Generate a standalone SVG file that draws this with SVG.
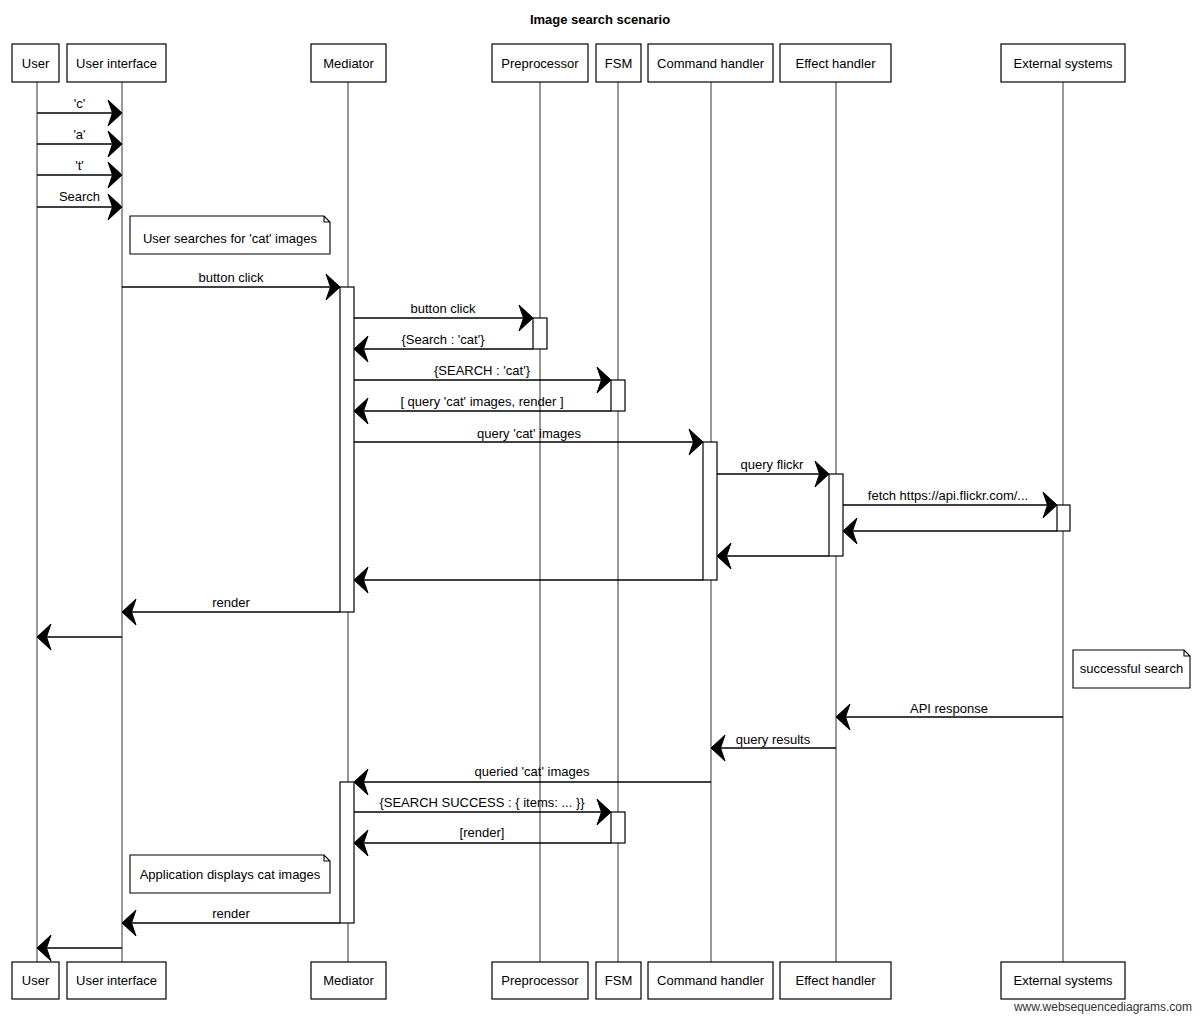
<svg xmlns="http://www.w3.org/2000/svg" width="1200" height="1019" viewBox="0 0 1200 1019">
<style>
text{font-family:"Liberation Sans",Arial,sans-serif;font-size:13px;fill:#000}
.title{font-weight:bold;font-size:13px}
.box{fill:#fff;stroke:#000;stroke-width:1.2}
.life{stroke:#333;stroke-width:1;fill:none}
.act{fill:#fff;stroke:#000;stroke-width:1.2}
.msg{stroke:#000;stroke-width:1.3;fill:none;marker-end:url(#ah)}
.note{fill:#fff;stroke:#000;stroke-width:1.1}
.foot{font-size:12px;fill:#333}
</style>
<defs>
<marker id="ah" markerUnits="userSpaceOnUse" markerWidth="18" markerHeight="32" viewBox="0 0 18 32" refX="16" refY="16" orient="auto">
<path d="M16,16 L2,3 L6.5,16 L2,29 Z" fill="#000" stroke="#000" stroke-width="1" stroke-linejoin="round"/>
</marker>
</defs>
<rect width="1200" height="1019" fill="#fff"/>
<text class="title" x="600" y="24" text-anchor="middle">Image search scenario</text>

<g id="lifelines">
<line class="life" x1="37" y1="82" x2="37" y2="962"/>
<line class="life" x1="122" y1="82" x2="122" y2="962"/>
<line class="life" x1="348" y1="82" x2="348" y2="962"/>
<line class="life" x1="540" y1="82" x2="540" y2="962"/>
<line class="life" x1="618" y1="82" x2="618" y2="962"/>
<line class="life" x1="711" y1="82" x2="711" y2="962"/>
<line class="life" x1="836" y1="82" x2="836" y2="962"/>
<line class="life" x1="1063" y1="82" x2="1063" y2="962"/>
</g>

<g id="user"><rect class="box" x="12" y="44" width="47" height="38"/><text x="35.5" y="68" text-anchor="middle">User</text>
<rect class="box" x="12" y="962" width="47" height="37"/><text x="35.5" y="985" text-anchor="middle">User</text></g>
<g id="ui"><rect class="box" x="67" y="44" width="99" height="38"/><text x="116.5" y="68" text-anchor="middle">User interface</text>
<rect class="box" x="67" y="962" width="99" height="37"/><text x="116.5" y="985" text-anchor="middle">User interface</text></g>
<g id="mediator"><rect class="box" x="311" y="44" width="75" height="38"/><text x="348.5" y="68" text-anchor="middle">Mediator</text>
<rect class="box" x="311" y="962" width="75" height="37"/><text x="348.5" y="985" text-anchor="middle">Mediator</text></g>
<g id="preprocessor"><rect class="box" x="492" y="44" width="96" height="38"/><text x="540" y="68" text-anchor="middle">Preprocessor</text>
<rect class="box" x="492" y="962" width="96" height="37"/><text x="540" y="985" text-anchor="middle">Preprocessor</text></g>
<g id="fsm"><rect class="box" x="596" y="44" width="45" height="38"/><text x="618.5" y="68" text-anchor="middle">FSM</text>
<rect class="box" x="596" y="962" width="45" height="37"/><text x="618.5" y="985" text-anchor="middle">FSM</text></g>
<g id="command"><rect class="box" x="648" y="44" width="125" height="38"/><text x="710.5" y="68" text-anchor="middle">Command handler</text>
<rect class="box" x="648" y="962" width="125" height="37"/><text x="710.5" y="985" text-anchor="middle">Command handler</text></g>
<g id="effect"><rect class="box" x="780" y="44" width="111" height="38"/><text x="835.5" y="68" text-anchor="middle">Effect handler</text>
<rect class="box" x="780" y="962" width="111" height="37"/><text x="835.5" y="985" text-anchor="middle">Effect handler</text></g>
<g id="external"><rect class="box" x="1001" y="44" width="124" height="38"/><text x="1063" y="68" text-anchor="middle">External systems</text>
<rect class="box" x="1001" y="962" width="124" height="37"/><text x="1063" y="985" text-anchor="middle">External systems</text></g>

<g id="activations">
<rect class="act" x="340" y="287" width="14" height="325"/>
<rect class="act" x="533" y="318" width="14" height="31"/>
<rect class="act" x="611" y="380" width="14" height="31"/>
<rect class="act" x="703" y="442" width="14" height="138"/>
<rect class="act" x="829" y="474" width="14" height="82"/>
<rect class="act" x="1057" y="505" width="13" height="26"/>
<rect class="act" x="340" y="782" width="14" height="141"/>
<rect class="act" x="611" y="812" width="14" height="31"/>
</g>

<g id="note1"><path class="note" d="M130,216 H324 L330,222 V254 H130 Z M324,216 V222 H330"/><text x="230" y="243" text-anchor="middle">User searches for 'cat' images</text></g>
<g id="note2"><path class="note" d="M1073,650 H1184 L1190,656 V688 H1073 Z M1184,650 V656 H1190"/><text x="1131.5" y="673" text-anchor="middle">successful search</text></g>
<g id="note3"><path class="note" d="M130,855 H324 L330,861 V893 H130 Z M324,855 V861 H330"/><text x="230" y="879" text-anchor="middle">Application displays cat images</text></g>

<g id="connectors">
<line class="msg" x1="37" y1="113" x2="122" y2="113"/>
<line class="msg" x1="37" y1="144" x2="122" y2="144"/>
<line class="msg" x1="37" y1="175" x2="122" y2="175"/>
<line class="msg" x1="37" y1="207" x2="122" y2="207"/>
<line class="msg" x1="122" y1="287" x2="340" y2="287"/>
<line class="msg" x1="354" y1="318" x2="533" y2="318"/>
<line class="msg" x1="533" y1="349" x2="354" y2="349"/>
<line class="msg" x1="354" y1="380" x2="611" y2="380"/>
<line class="msg" x1="611" y1="411" x2="354" y2="411"/>
<line class="msg" x1="354" y1="442" x2="703" y2="442"/>
<line class="msg" x1="717" y1="474" x2="829" y2="474"/>
<line class="msg" x1="843" y1="505" x2="1057" y2="505"/>
<line class="msg" x1="1057" y1="531" x2="843" y2="531"/>
<line class="msg" x1="829" y1="556" x2="717" y2="556"/>
<line class="msg" x1="703" y1="580" x2="354" y2="580"/>
<line class="msg" x1="340" y1="612" x2="122" y2="612"/>
<line class="msg" x1="122" y1="637" x2="37" y2="637"/>
<line class="msg" x1="1063" y1="717" x2="836" y2="717"/>
<line class="msg" x1="836" y1="748" x2="711" y2="748"/>
<line class="msg" x1="711" y1="782" x2="354" y2="782"/>
<line class="msg" x1="354" y1="812" x2="611" y2="812"/>
<line class="msg" x1="611" y1="843" x2="354" y2="843"/>
<line class="msg" x1="340" y1="923" x2="122" y2="923"/>
<line class="msg" x1="122" y1="948" x2="37" y2="948"/>
</g>

<g id="labels">
<text x="79.5" y="108" text-anchor="middle">'c'</text>
<text x="79.5" y="139" text-anchor="middle">'a'</text>
<text x="79.5" y="170" text-anchor="middle">'t'</text>
<text x="79.5" y="201" text-anchor="middle">Search</text>
<text x="231" y="282" text-anchor="middle">button click</text>
<text x="443" y="313" text-anchor="middle">button click</text>
<text x="443" y="344" text-anchor="middle">{Search : 'cat'}</text>
<text x="482" y="375" text-anchor="middle">{SEARCH : 'cat'}</text>
<text x="482" y="406" text-anchor="middle">[ query 'cat' images, render ]</text>
<text x="529" y="438" text-anchor="middle">query 'cat' images</text>
<text x="772" y="469" text-anchor="middle">query flickr</text>
<text x="948" y="500" text-anchor="middle">fetch https://api.flickr.com/...</text>
<text x="231" y="607" text-anchor="middle">render</text>
<text x="949" y="713" text-anchor="middle">API response</text>
<text x="773" y="744" text-anchor="middle">query results</text>
<text x="532" y="776" text-anchor="middle">queried 'cat' images</text>
<text x="482" y="807" text-anchor="middle">{SEARCH SUCCESS : { items: ... }}</text>
<text x="482" y="837" text-anchor="middle">[render]</text>
<text x="231" y="918" text-anchor="middle">render</text>
</g>

<text class="foot" x="1192" y="1011" text-anchor="end">www.websequencediagrams.com</text>
</svg>
